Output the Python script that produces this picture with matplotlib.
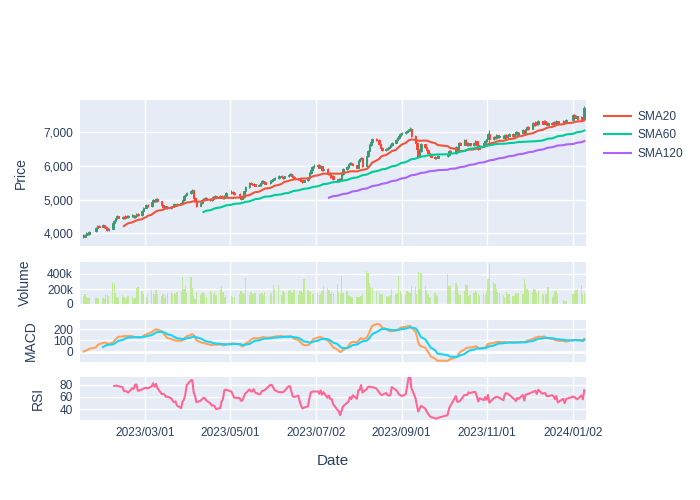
import numpy as np
import pandas as pd
import matplotlib
matplotlib.use('Agg')
import matplotlib.pyplot as plt
from matplotlib.ticker import FuncFormatter
from matplotlib.lines import Line2D

plt.rcParams['font.family'] = ['Liberation Sans', 'DejaVu Sans']

# market holidays (no trading) between 2023-01-16 and 2024-01-10
holidays = ['2023-01-23', '2023-01-24', '2023-03-01', '2023-05-01', '2023-05-05',
            '2023-05-29', '2023-06-06', '2023-08-15', '2023-09-28', '2023-09-29',
            '2023-10-02', '2023-10-03', '2023-10-09', '2023-12-25', '2023-12-29',
            '2024-01-01']

# daily OHLC, one row per month
open_ = [
    3960, 3900, 3950, 4010, 3980, 4060, 4150, 4230, 4200, 4250,
    4190, 4150, 4100, 4140, 4300, 4380, 4450, 4500, 4460, 4480, 4450, 4520, 4490, 4500, 4530, 4480, 4520, 4560, 4530, 4650,
    4760, 4840, 4800, 4930, 5000, 4960, 5020, 4950, 4830, 4780, 4800, 4760, 4740, 4790, 4820, 4860, 4840, 4880, 4900, 4990, 5100, 5150,
    5200, 5250, 5290, 5050, 4950, 4820, 4900, 5000, 5030, 5060, 5000, 4980, 5020, 5080, 5100, 5060, 5120, 5090, 5050, 5100,
    5200, 5230, 5200, 5170, 5100, 5030, 5080, 5250, 5380, 5500, 5480, 5450, 5470, 5420, 5440, 5500, 5560, 5530, 5490, 5560,
    5600, 5620, 5650, 5700, 5680, 5650, 5700, 5740, 5760, 5720, 5680, 5640, 5610, 5590, 5560, 5540, 5580, 5650, 5780, 5890, 5960,
    6010, 6030, 5950, 5990, 5870, 5910, 5760, 5800, 5680, 5720, 5610, 5560, 5620, 5590, 5750, 5900, 5960, 6050, 6090, 6060, 6020,
    5950, 6150, 6220, 6240, 6000, 6300, 6450, 6640, 6720, 6800, 6780, 6650, 6540, 6480, 6500, 6540, 6580, 6630, 6700, 6780, 6840, 6900,
    6950, 6990, 7020, 7050, 7080, 7100, 6900, 6700, 6500, 6280, 6450, 6650, 6560, 6480, 6400, 6330, 6280, 6240, 6250,
    6300, 6320, 6450, 6390, 6560, 6500, 6700, 6640, 6780, 6700, 6630, 6680, 6620, 6700, 6740, 6620, 6520, 6600, 6680,
    6740, 6820, 6950, 6800, 6880, 6840, 6920, 6860, 6900, 6850, 6930, 6870, 6910, 6960, 6900, 6950, 7010, 6940, 6990, 7060, 6990, 7100,
    7150, 7110, 7270, 7220, 7300, 7250, 7330, 7260, 7350, 7280, 7230, 7290, 7250, 7310, 7270, 7330, 7290, 7340, 7300,
    7360, 7520, 7440, 7480, 7390, 7450, 7400,
]
high = [
    3990, 3980, 4030, 4040, 4080, 4180, 4250, 4250, 4280, 4260,
    4210, 4180, 4160, 4330, 4410, 4480, 4540, 4520, 4510, 4500, 4550, 4540, 4530, 4560, 4550, 4540, 4590, 4590, 4680, 4790,
    4870, 4860, 4950, 5030, 5030, 5060, 5040, 4970, 4860, 4830, 4820, 4780, 4810, 4850, 4890, 4880, 4900, 4930, 5020, 5130, 5180, 5240,
    5280, 5320, 5300, 5080, 4980, 4930, 5030, 5060, 5090, 5080, 5020, 5050, 5110, 5130, 5120, 5150, 5140, 5100, 5130, 5230,
    5280, 5260, 5230, 5200, 5120, 5110, 5270, 5400, 5530, 5520, 5500, 5490, 5480, 5460, 5530, 5590, 5580, 5550, 5590, 5630,
    5650, 5680, 5730, 5740, 5700, 5720, 5770, 5790, 5780, 5740, 5700, 5660, 5630, 5610, 5580, 5600, 5680, 5810, 5920, 5990, 6050,
    6070, 6050, 6010, 6000, 5930, 5930, 5820, 5820, 5740, 5740, 5630, 5640, 5640, 5780, 5930, 5990, 6080, 6120, 6110, 6080, 6040,
    6180, 6250, 6280, 6260, 6330, 6480, 6670, 6750, 6840, 6830, 6800, 6670, 6560, 6530, 6570, 6610, 6660, 6730, 6810, 6870, 6930, 6990,
    7020, 7050, 7080, 7110, 7150, 7120, 6920, 6720, 6520, 6480, 6680, 6670, 6580, 6500, 6420, 6350, 6300, 6280, 6330,
    6370, 6480, 6470, 6590, 6580, 6730, 6720, 6810, 6800, 6720, 6710, 6700, 6730, 6770, 6760, 6650, 6630, 6710, 6770,
    6850, 6980, 7060, 6910, 6900, 6950, 6940, 6930, 6920, 6960, 6950, 6940, 6990, 6980, 6980, 7040, 7030, 7020, 7090, 7080, 7130, 7180,
    7180, 7300, 7290, 7330, 7320, 7360, 7350, 7380, 7370, 7300, 7320, 7310, 7340, 7330, 7360, 7350, 7370, 7360, 7390,
    7560, 7540, 7510, 7500, 7480, 7470, 7780,
]
low = [
    3870, 3880, 3930, 3960, 3960, 4040, 4130, 4180, 4180, 4170,
    4120, 4070, 4080, 4120, 4280, 4360, 4430, 4450, 4440, 4430, 4430, 4470, 4470, 4480, 4460, 4460, 4500, 4510, 4520, 4640,
    4740, 4780, 4780, 4910, 4940, 4940, 4930, 4810, 4750, 4760, 4740, 4710, 4720, 4770, 4800, 4820, 4820, 4860, 4880, 4970, 5080, 5130,
    5180, 5230, 5030, 4920, 4790, 4800, 4880, 4980, 5010, 4980, 4950, 4960, 5000, 5060, 5040, 5040, 5070, 5030, 5030, 5080,
    5180, 5180, 5150, 5080, 5000, 5010, 5060, 5230, 5360, 5460, 5430, 5430, 5400, 5400, 5420, 5480, 5510, 5460, 5470, 5540,
    5580, 5600, 5630, 5660, 5630, 5630, 5680, 5720, 5700, 5660, 5620, 5590, 5570, 5540, 5510, 5520, 5560, 5630, 5760, 5870, 5940,
    5990, 5930, 5930, 5850, 5850, 5740, 5740, 5660, 5660, 5590, 5540, 5540, 5570, 5570, 5730, 5880, 5940, 6030, 6040, 6000, 5930,
    5930, 6120, 6190, 5970, 5980, 6280, 6430, 6610, 6700, 6750, 6630, 6520, 6450, 6460, 6480, 6520, 6560, 6610, 6680, 6760, 6820, 6880,
    6920, 6960, 6990, 7020, 7050, 6880, 6680, 6480, 6250, 6260, 6430, 6540, 6460, 6380, 6310, 6260, 6210, 6220, 6230,
    6270, 6300, 6370, 6370, 6480, 6480, 6620, 6620, 6680, 6610, 6610, 6600, 6600, 6680, 6600, 6490, 6500, 6580, 6660,
    6720, 6800, 6600, 6780, 6820, 6820, 6840, 6840, 6830, 6830, 6850, 6850, 6890, 6880, 6880, 6930, 6920, 6920, 6970, 6970, 6970, 7080,
    7080, 7090, 7200, 7200, 7230, 7230, 7240, 7240, 7260, 7210, 7210, 7230, 7230, 7250, 7250, 7270, 7270, 7280, 7280,
    7350, 7420, 7420, 7370, 7370, 7380, 7390,
]
close = [
    3900, 3950, 4000, 3980, 4050, 4150, 4220, 4200, 4250, 4190,
    4150, 4100, 4130, 4300, 4380, 4450, 4500, 4470, 4480, 4450, 4520, 4490, 4500, 4530, 4480, 4520, 4560, 4530, 4650, 4760,
    4840, 4800, 4930, 5000, 4960, 5020, 4950, 4830, 4780, 4800, 4760, 4740, 4790, 4820, 4860, 4840, 4880, 4900, 4990, 5100, 5150, 5200,
    5250, 5280, 5050, 4950, 4820, 4900, 5000, 5030, 5060, 5000, 4980, 5020, 5080, 5100, 5060, 5120, 5090, 5050, 5100, 5200,
    5230, 5200, 5170, 5100, 5030, 5080, 5250, 5380, 5500, 5480, 5450, 5470, 5420, 5440, 5500, 5560, 5530, 5480, 5560, 5600,
    5620, 5650, 5700, 5680, 5650, 5700, 5740, 5760, 5720, 5680, 5640, 5610, 5590, 5560, 5540, 5580, 5650, 5780, 5890, 5960, 6010,
    6030, 5950, 5990, 5870, 5910, 5760, 5800, 5680, 5720, 5610, 5560, 5620, 5590, 5750, 5900, 5960, 6050, 6090, 6060, 6020, 5950,
    6150, 6220, 6240, 6000, 6300, 6450, 6640, 6720, 6800, 6780, 6650, 6540, 6480, 6500, 6540, 6580, 6630, 6700, 6780, 6840, 6900, 6950,
    6990, 7020, 7050, 7080, 7100, 6900, 6700, 6500, 6280, 6450, 6650, 6560, 6480, 6400, 6330, 6280, 6240, 6250, 6300,
    6320, 6450, 6390, 6560, 6500, 6700, 6640, 6780, 6700, 6630, 6680, 6620, 6700, 6740, 6620, 6520, 6600, 6680, 6740,
    6820, 6950, 6800, 6880, 6840, 6920, 6860, 6900, 6850, 6930, 6870, 6910, 6960, 6900, 6950, 7010, 6940, 6990, 7060, 6990, 7100, 7150,
    7110, 7270, 7220, 7300, 7250, 7330, 7260, 7350, 7280, 7230, 7290, 7250, 7310, 7270, 7330, 7290, 7340, 7300, 7360,
    7520, 7440, 7480, 7390, 7450, 7400, 7740,
]
# volume in thousands
volume_k = [
    110, 130, 90, 85, 80, 85, 80, 75, 85, 70,
    130, 120, 110, 290, 280, 145, 100, 80, 120, 90, 60, 80, 110, 95, 70, 85, 210, 230, 170, 130,
    100, 130, 190, 150, 120, 190, 140, 110, 130, 80, 120, 150, 160, 130, 150, 140, 160, 170, 360, 200, 235, 150,
    355, 210, 110, 70, 160, 120, 150, 160, 130, 100, 170, 150, 130, 160, 120, 200, 235, 160, 90, 120,
    110, 100, 90, 140, 170, 145, 130, 350, 120, 160, 140, 130, 150, 140, 130, 150, 120, 160, 140, 150,
    250, 200, 260, 120, 180, 150, 170, 190, 160, 150, 190, 120, 170, 180, 150, 330, 190, 160, 170, 140, 130,
    150, 120, 140, 170, 240, 210, 190, 130, 160, 150, 270, 160, 130, 370, 150, 170, 120, 110, 90, 100, 95,
    100, 90, 110, 130, 440, 420, 280, 230, 220, 170, 150, 120, 130, 110, 100, 110, 120, 200, 130, 150, 380, 170,
    140, 120, 170, 160, 150, 240, 230, 130, 430, 200, 420, 235, 170, 130, 100, 80, 150, 120, 110,
    400, 235, 260, 280, 240, 150, 120, 170, 270, 260, 110, 120, 150, 170, 160, 130, 110, 150, 120,
    170, 330, 530, 300, 270, 200, 160, 145, 120, 100, 160, 130, 140, 110, 120, 150, 140, 145, 130, 330, 270, 200,
    180, 160, 200, 190, 150, 170, 140, 130, 135, 130, 230, 100, 120, 180, 170, 130, 50, 40, 35,
    130, 170, 190, 200, 260, 130, 145,
]

tick_dates = ['2023-03-01', '2023-05-01', '2023-07-02', '2023-09-01', '2023-11-01', '2024-01-02']

dates = pd.bdate_range('2023-01-16', periods=len(close), freq='C', holidays=holidays)
df = pd.DataFrame({'Open': open_, 'High': high, 'Low': low, 'Close': close,
                   'Volume': np.array(volume_k) * 1000}, index=dates)

# indicators
df['SMA20'] = df['Close'].rolling(20).mean()
df['SMA60'] = df['Close'].rolling(60).mean()
df['SMA120'] = df['Close'].rolling(120).mean()
ema12 = df['Close'].ewm(span=12, adjust=False).mean()
ema26 = df['Close'].ewm(span=26, adjust=False).mean()
df['MACD'] = ema12 - ema26
df['Signal'] = df['MACD'].ewm(span=9, adjust=False, min_periods=9).mean()
delta = df['Close'].diff()
gain = delta.clip(lower=0).rolling(14).mean()
loss = (-delta.clip(upper=0)).rolling(14).mean()
df['RSI'] = 100 - 100 / (1 + gain / loss)

txt = '#2a3f5f'
fig = plt.figure(figsize=(7, 5), dpi=100)
L, W = 80 / 700, 506 / 700
ax1 = fig.add_axes([L, 1 - 246 / 500, W, 146 / 500])
ax2 = fig.add_axes([L, 1 - 304 / 500, W, 42 / 500], sharex=ax1)
ax3 = fig.add_axes([L, 1 - 362 / 500, W, 42 / 500], sharex=ax1)
ax4 = fig.add_axes([L, 1 - 420 / 500, W, 43 / 500], sharex=ax1)

for ax in (ax1, ax2, ax3, ax4):
    ax.set_facecolor('#E5ECF6')
    for s in ax.spines.values():
        s.set_visible(False)
    ax.grid(True, color='white', lw=1)
    ax.set_axisbelow(True)
    ax.tick_params(length=0, labelsize=8.6, colors=txt, pad=5)
    ax.set_xticks(pd.to_datetime(tick_dates))

# candlestick
up = df['Close'] >= df['Open']
cols = np.where(up, '#3D9970', '#FF4136')
body = (df['Close'] - df['Open']).abs().clip(lower=10)
ax1.vlines(df.index, df['Low'], df['High'], colors=cols, lw=0.8, zorder=2)
ax1.bar(df.index, body, bottom=df[['Open', 'Close']].min(axis=1), width=1.1,
        color=cols, edgecolor=cols, linewidth=0.7, zorder=2)
ax1.plot(df.index, df['SMA20'], color='#EF553B', lw=1.5, zorder=3)
ax1.plot(df.index, df['SMA60'], color='#00CC96', lw=1.5, zorder=3)
ax1.plot(df.index, df['SMA120'], color='#AB63FA', lw=1.5, zorder=3)
ax1.set_ylim(3622, 7967)
ax1.set_yticks([4000, 5000, 6000, 7000])
ax1.yaxis.set_major_formatter(FuncFormatter(lambda v, p: f'{v:,.0f}'))
ax1.set_ylabel('Price', fontsize=10, color=txt, labelpad=11)

# volume
ax2.bar(df.index, df['Volume'], width=0.9, color='#B6E880', alpha=0.8, zorder=2)
ax2.set_ylim(0, 560000)
ax2.set_yticks([0, 200000, 400000])
ax2.yaxis.set_major_formatter(FuncFormatter(lambda v, p: '0' if v == 0 else f'{v / 1000:.0f}k'))
ax2.set_ylabel('Volume', fontsize=10, color=txt, labelpad=11)

# MACD
ax3.axhline(0, color='white', lw=1.8, zorder=1)
ax3.plot(df.index, df['MACD'], color='#FFA15A', lw=1.5, zorder=3)
ax3.plot(df.index, df['Signal'], color='#19D3F3', lw=1.5, zorder=3)
ax3.set_ylim(-94, 282)
ax3.set_yticks([0, 100, 200])
ax3.set_ylabel('MACD', fontsize=10, color=txt, labelpad=11)

# RSI
ax4.plot(df.index, df['RSI'], color='#FF6692', lw=1.5, zorder=3)
ax4.set_ylim(22.5, 92.6)
ax4.set_yticks([40, 60, 80])
ax4.set_ylabel('RSI', fontsize=10, color=txt, labelpad=11)

ax4.set_xlim(pd.Timestamp('2023-01-13 12:00'), pd.Timestamp('2024-01-11 06:00'))
ax4.set_xticklabels([pd.Timestamp(d).strftime('%Y/%m/%d') for d in tick_dates])
for ax in (ax1, ax2, ax3):
    plt.setp(ax.get_xticklabels(), visible=False)
ax4.set_xlabel('Date', fontsize=11, color=txt, labelpad=11)

handles = [Line2D([], [], color=c, lw=1.5) for c in ('#EF553B', '#00CC96', '#AB63FA')]
fig.legend(handles, ['SMA20', 'SMA60', 'SMA120'], loc='upper left',
           bbox_to_anchor=(593 / 700, 1 - 100 / 500), frameon=False,
           fontsize=8.6, labelcolor=txt, handlelength=2.3, handletextpad=0.5,
           labelspacing=0.55)

fig.savefig('out.png', dpi=100)
